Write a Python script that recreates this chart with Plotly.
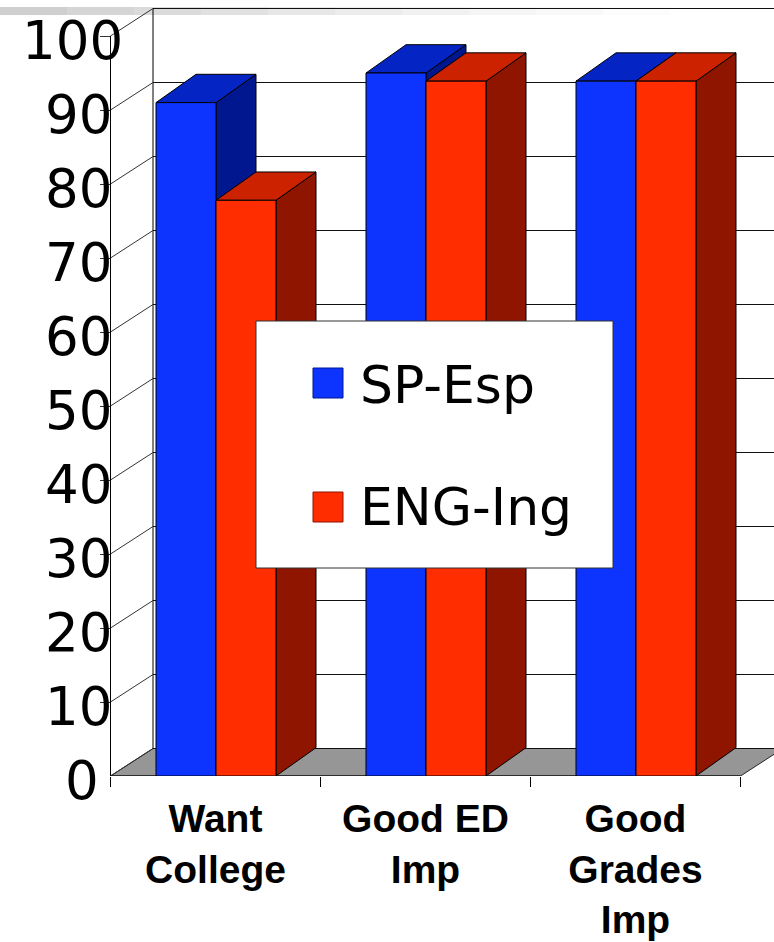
import plotly.graph_objects as go

categories = ["Want<br>College", "Good ED<br>Imp", "Good<br>Grades<br>Imp"]
sp_esp = [91, 95, 93.9]
eng_ing = [77.8, 93.9, 93.9]
y_ticks = [0, 10, 20, 30, 40, 50, 60, 70, 80, 90, 100]
series_names = ["SP-Esp", "ENG-Ing"]

W, H = 774, 942
ML, MR, MT, MB = 100, 0, 8, 166
PW, PH = W - ML - MR, H - MT - MB
PX_X = 210.0          # px per category
PX_Y = 7.4            # px per unit
X0 = -0.5
XEND = 2.5
xmin = X0 - 10.5 / PX_X
xmax = xmin + PW / PX_X
ymax = PH / PX_Y

BAR_W = 60.0 / PX_X
BAR_SHIFT = 0.5 / PX_X
WALL_DX, WALL_DY = 42.5 / PX_X, 27.5 / PX_Y
BAR_DX, BAR_DY = 40.0 / PX_X, 28.3 / PX_Y

BLUE, BLUE_TOP, BLUE_SIDE = "#0D33FF", "#0524C4", "#00178F"
RED, RED_TOP, RED_SIDE = "#FF2D00", "#CC2200", "#8F1500"

def px(x):
    return (x - ML) / PW

def py(y):
    return (H - MB - y) / PH

shapes = []

# faint slide decoration along the top
fade = ["#cfcfcf", "#d5d5d5", "#dbdbdb", "#e1e1e1", "#e7e7e7", "#ececec",
        "#f1f1f1", "#f5f5f5", "#f9f9f9", "#fcfcfc"]
fade_step = 67
for i, c in enumerate(fade):
    shapes.append(dict(type="rect", xref="paper", yref="paper",
                       x0=(i * fade_step - ML) / PW, x1=((i + 1) * fade_step - ML) / PW,
                       y0=py(15), y1=py(7), fillcolor=c, line_width=0, layer="below"))

def poly(points, fill, layer="below", lw=1, color="#000000"):
    path = "M " + " L ".join(f"{x:.5f},{y:.4f}" for x, y in points) + " Z"
    shapes.append(dict(type="path", xref="x", yref="y", path=path, fillcolor=fill,
                       line=dict(color=color, width=lw), layer=layer))

def seg(x0, y0, x1, y1, color="#000000", width=1):
    shapes.append(dict(type="line", xref="x", yref="y", x0=x0, y0=y0, x1=x1, y1=y1,
                       line=dict(color=color, width=width), layer="below"))

# floor
poly([(X0, 0), (X0 + WALL_DX, WALL_DY), (XEND + WALL_DX, WALL_DY), (XEND, 0)], "#969696", lw=1, color="#222222")

# back wall
seg(X0 + WALL_DX, WALL_DY, X0 + WALL_DX, 100 + WALL_DY)
for t in y_ticks:
    seg(X0 + WALL_DX, t + WALL_DY, xmax, t + WALL_DY,
        color="#111111", width=1)
    seg(X0, t, X0 + WALL_DX, t + WALL_DY, color="#333333", width=1)

# front axes
seg(X0, 0, X0, 100)
seg(X0, 0, XEND, 0)

# 3D faces
for i in range(3):
    for k, (vals, top, side) in enumerate([(sp_esp, BLUE_TOP, BLUE_SIDE), (eng_ing, RED_TOP, RED_SIDE)]):
        v = vals[i]
        l = i + BAR_SHIFT + (k - 1) * BAR_W
        r = l + BAR_W
        poly([(r, 0), (r + BAR_DX, BAR_DY), (r + BAR_DX, v + BAR_DY), (r, v)], side)
        poly([(l, v), (l + BAR_DX, v + BAR_DY), (r + BAR_DX, v + BAR_DY), (r, v)], top)

# legend
shapes.append(dict(type="rect", xref="paper", yref="paper", x0=px(256), x1=px(613), y0=py(568), y1=py(321),
                   fillcolor="white", line=dict(color="#333333", width=1), layer="above"))
annotations = []
for name, y_c, y_t, fill, edge in [(series_names[0], 383, 385, BLUE, "#00178F"), (series_names[1], 507, 507, RED, "#8F1500")]:
    shapes.append(dict(type="rect", xref="paper", yref="paper", x0=px(313), x1=px(343), y0=py(y_c + 15), y1=py(y_c - 15),
                       fillcolor=fill, line=dict(color=edge, width=1), layer="above"))
    annotations.append(dict(xref="paper", yref="paper", x=px(358), y=py(y_t), text=name, showarrow=False,
                            xanchor="left", yanchor="middle", font=dict(family="DejaVu Sans", size=52, color="black")))

# y labels
for t in y_ticks:
    lab = str(t)
    shift = -10 if t == 0 else (14 if t == 100 else 3)
    annotations.append(dict(xref="x", yref="y", x=X0, y=t, text=lab, showarrow=False, xanchor="right",
                            yanchor="middle", xshift=shift, yshift=-4,
                            font=dict(family="DejaVu Sans", size=53, color="black")))

fig = go.Figure()
fig.add_bar(name=series_names[0], x=[BAR_SHIFT, 1 + BAR_SHIFT, 2 + BAR_SHIFT], y=sp_esp, width=BAR_W, offset=-BAR_W,
            marker=dict(color=BLUE, line=dict(color="black", width=1)), showlegend=False)
fig.add_bar(name=series_names[1], x=[BAR_SHIFT, 1 + BAR_SHIFT, 2 + BAR_SHIFT], y=eng_ing, width=BAR_W, offset=0,
            marker=dict(color=RED, line=dict(color="black", width=1)), showlegend=False)

fig.update_layout(
    width=W, height=H, margin=dict(l=ML, r=MR, t=MT, b=MB, autoexpand=False),
    paper_bgcolor="white", plot_bgcolor="white", barmode="overlay",
    shapes=shapes, annotations=annotations, showlegend=False,
    xaxis=dict(range=[xmin, xmax], showgrid=False, zeroline=False, showline=False,
               tickmode="array", tickvals=[0, 1, 2], ticktext=categories, ticks="",
               ticklabelstandoff=16,
               tickfont=dict(family="Liberation Sans", size=39, color="black", weight="bold"),
               minor=dict(tickmode="array", tickvals=[-0.5, 0.5, 1.5, 2.5], ticks="outside", ticklen=10,
                          tickcolor="black", tickwidth=1, showgrid=False)),
    yaxis=dict(range=[0, ymax], showgrid=False, zeroline=False, showline=False,
               tickmode="array", tickvals=y_ticks, ticks="inside", ticklen=10, tickcolor="#333333",
               showticklabels=False),
)

fig.write_html("out.html", config={"displayModeBar": False},
               post_script="document.body.style.margin='0';document.body.style.overflow='hidden';")
